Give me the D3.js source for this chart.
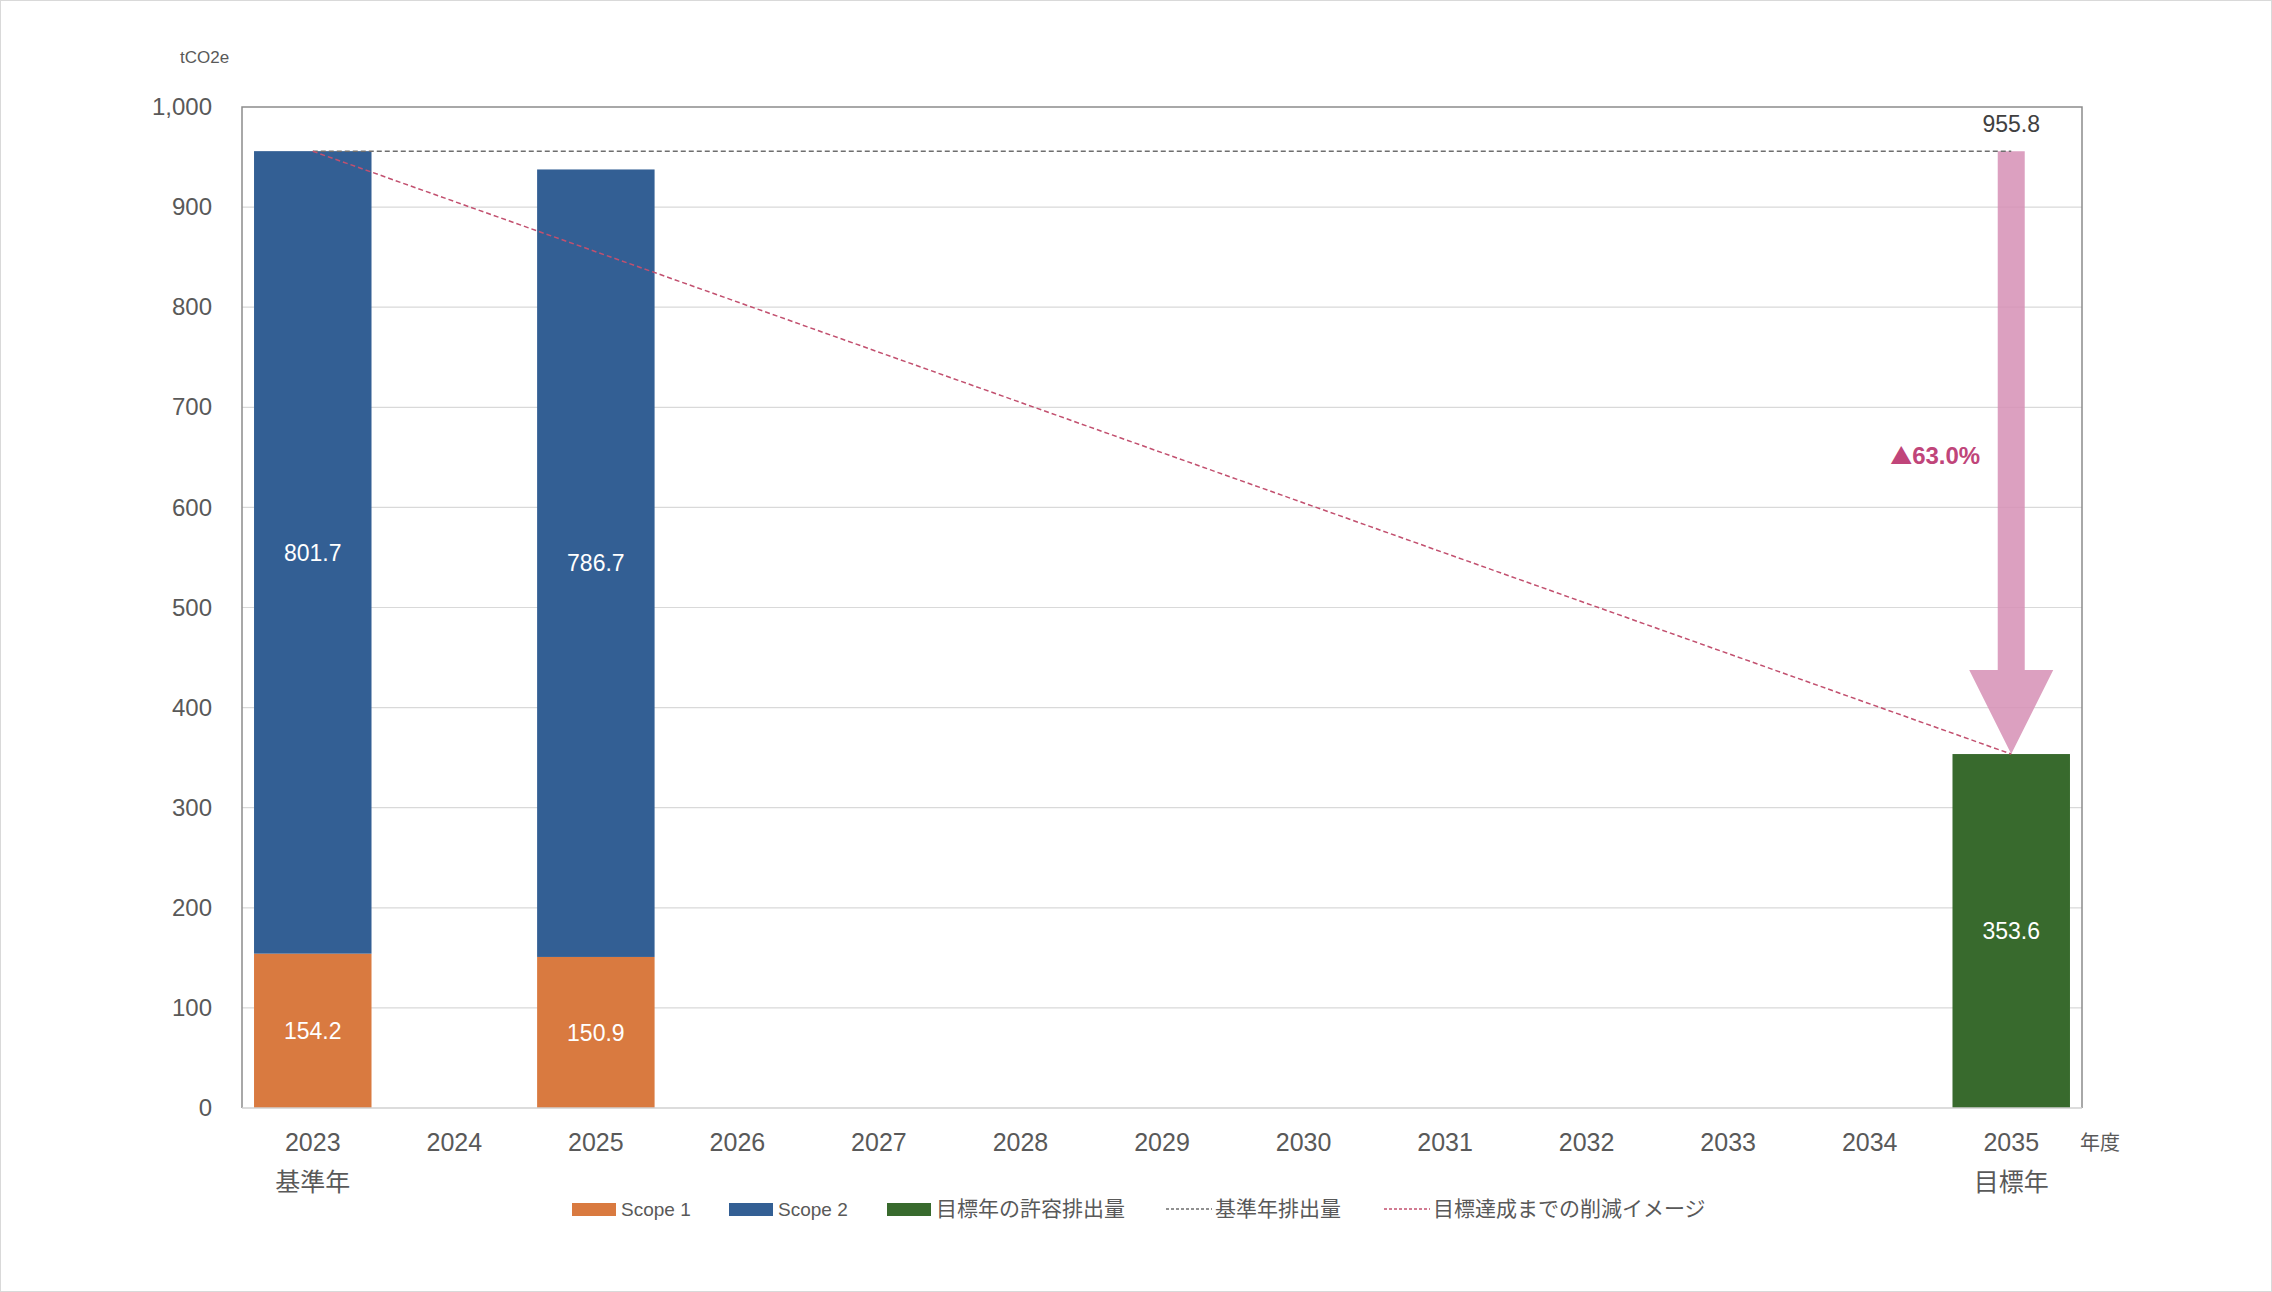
<!DOCTYPE html>
<html>
<head>
<meta charset="utf-8">
<script src="https://cdn.jsdelivr.net/npm/d3@7"></script>
<style>
  body { margin: 0; background: #fff; }
  svg text { font-family: "Liberation Sans", "Noto Sans CJK JP", sans-serif; }
  .jp { font-family: "Noto Sans CJK JP", sans-serif; }
</style>
</head>
<body>
<div id="chart"></div>
<script>
// Data
var years = ["2023", "2024", "2025", "2026", "2027", "2028", "2029", "2030", "2031", "2032", "2033", "2034", "2035"];
var scope1 = [154.2, null, 150.9, null, null, null, null, null, null, null, null, null, null];
var scope2 = [801.7, null, 786.7, null, null, null, null, null, null, null, null, null, null];
var allowed = [null, null, null, null, null, null, null, null, null, null, null, null, 353.6];
var baseValue = 955.8;
var reductionLabel = "63.0%";
var yTicks = [0, 100, 200, 300, 400, 500, 600, 700, 800, 900, 1000];
var subLabels = { "2023": "基準年", "2035": "目標年" };

var svgWidth = 2272;
var svgHeight = 1292;

var margin = { top: 107, right: 190, bottom: 184, left: 242 };
var chartWidth = svgWidth - margin.left - margin.right;
var chartHeight = svgHeight - margin.top - margin.bottom;

var colors = { s1: "#D97A40", s2: "#335F94", green: "#386A2D", arrow: "#D68FB5", trend: "#C2506F", base: "#6E6E6E" };

var svg = d3.select("#chart")
  .append("svg")
  .attr("width", svgWidth)
  .attr("height", svgHeight);

// outer light frame
svg.append("rect")
  .attr("x", 0.5).attr("y", 0.5)
  .attr("width", svgWidth - 1).attr("height", svgHeight - 1)
  .attr("fill", "#fff").attr("stroke", "#d9d9d9");

var chartGroup = svg.append("g")
  .attr("transform", `translate(${margin.left}, ${margin.top})`);

var x = d3.scaleBand()
  .domain(years)
  .range([0, chartWidth])
  .paddingInner(0.17)
  .paddingOuter(0.085);

var y = d3.scaleLinear()
  .domain([0, 1000])
  .range([chartHeight, 0]);

// gridlines
chartGroup.append("g")
  .selectAll("line")
  .data(yTicks.filter(d => d > 0 && d < 1000))
  .enter().append("line")
  .attr("x1", 0).attr("x2", chartWidth)
  .attr("y1", d => y(d)).attr("y2", d => y(d))
  .attr("stroke", "#d9d9d9").attr("stroke-width", 1.2);

// y axis labels
var leftAxis = d3.axisLeft(y).tickValues(yTicks).tickFormat(d3.format(",")).tickSize(0).tickPadding(30);
chartGroup.append("g")
  .call(leftAxis)
  .call(g => g.select(".domain").remove())
  .selectAll("text")
  .attr("fill", "#595959")
  .style("font-size", "24px");

svg.append("text")
  .attr("x", 180).attr("y", 63)
  .attr("fill", "#595959")
  .style("font-size", "17px")
  .text("tCO2e");

// bars
var cx = d => x(d) + x.bandwidth() / 2;

years.forEach(function(yr, i) {
  if (scope1[i] != null) {
    chartGroup.append("rect")
      .attr("x", x(yr)).attr("width", x.bandwidth())
      .attr("y", y(scope1[i])).attr("height", y(0) - y(scope1[i]))
      .attr("fill", colors.s1);
    chartGroup.append("rect")
      .attr("x", x(yr)).attr("width", x.bandwidth())
      .attr("y", y(scope1[i] + scope2[i])).attr("height", y(scope1[i]) - y(scope1[i] + scope2[i]))
      .attr("fill", colors.s2);
    chartGroup.append("text")
      .attr("x", cx(yr)).attr("y", y(scope1[i] / 2)).attr("dy", "0.36em")
      .attr("text-anchor", "middle").attr("fill", "#fff").style("font-size", "23px")
      .text(scope1[i].toFixed(1));
    chartGroup.append("text")
      .attr("x", cx(yr)).attr("y", y(scope1[i] + scope2[i] / 2)).attr("dy", "0.36em")
      .attr("text-anchor", "middle").attr("fill", "#fff").style("font-size", "23px")
      .text(scope2[i].toFixed(1));
  }
  if (allowed[i] != null) {
    chartGroup.append("rect")
      .attr("x", x(yr)).attr("width", x.bandwidth())
      .attr("y", y(allowed[i])).attr("height", y(0) - y(allowed[i]))
      .attr("fill", colors.green);
    chartGroup.append("text")
      .attr("x", cx(yr)).attr("y", y(allowed[i] / 2)).attr("dy", "0.36em")
      .attr("text-anchor", "middle").attr("fill", "#fff").style("font-size", "23px")
      .text(allowed[i].toFixed(1));
  }
});

// frame (left, top, right) and bottom axis line
chartGroup.append("path")
  .attr("d", `M0,${chartHeight}V0H${chartWidth}V${chartHeight}`)
  .attr("fill", "none").attr("stroke", "#8c8c8c").attr("stroke-width", 1.5);
chartGroup.append("line")
  .attr("x1", 0).attr("x2", chartWidth)
  .attr("y1", chartHeight).attr("y2", chartHeight)
  .attr("stroke", "#d0d0d0").attr("stroke-width", 1.5);

var first = years[0], last = years[years.length - 1];
var target = allowed[allowed.length - 1];

// reduction arrow
var shaftW = 27, headW = 84, headH = y(target) - y(437.5);
var ax = cx(last);
chartGroup.append("path")
  .attr("d", [
    "M", ax - shaftW / 2, y(baseValue),
    "H", ax + shaftW / 2,
    "V", y(target) - headH,
    "H", ax + headW / 2,
    "L", ax, y(target),
    "L", ax - headW / 2, y(target) - headH,
    "H", ax - shaftW / 2, "Z"].join(" "))
  .attr("fill", colors.arrow).attr("opacity", 0.85);

// base-year line
chartGroup.append("line")
  .attr("x1", cx(first)).attr("x2", cx(last))
  .attr("y1", y(baseValue)).attr("y2", y(baseValue))
  .attr("stroke", colors.base).attr("stroke-width", 1.3)
  .attr("stroke-dasharray", "5 3");

// reduction path line
chartGroup.append("line")
  .attr("x1", cx(first)).attr("x2", cx(last))
  .attr("y1", y(baseValue)).attr("y2", y(target))
  .attr("stroke", colors.trend).attr("stroke-width", 1.5)
  .attr("stroke-dasharray", "5 3");

chartGroup.append("text")
  .attr("x", cx(last)).attr("y", y(baseValue) - 19)
  .attr("text-anchor", "middle").attr("fill", "#404040").style("font-size", "23px")
  .text(baseValue.toFixed(1));

var redText = chartGroup.append("text")
  .attr("x", cx(last) - 31).attr("y", y(652)).attr("dy", "0.36em")
  .attr("text-anchor", "end").attr("fill", "#C0457A")
  .style("font-size", "24px").style("font-weight", "bold");
redText.append("tspan").attr("class", "jp").style("font-size", "22px").text("▲");
redText.append("tspan").text(reductionLabel);

// x axis labels
var bottomAxis = d3.axisBottom(x).tickSize(0).tickPadding(25);
var xg = chartGroup.append("g")
  .attr("transform", `translate(0, ${chartHeight})`)
  .call(bottomAxis);
xg.select(".domain").remove();
xg.selectAll("text").attr("fill", "#595959").style("font-size", "25px");

Object.keys(subLabels).forEach(function(k) {
  chartGroup.append("text")
    .attr("class", "jp")
    .attr("x", cx(k)).attr("y", chartHeight + 83)
    .attr("text-anchor", "middle").attr("fill", "#595959").style("font-size", "25px")
    .text(subLabels[k]);
});

chartGroup.append("text")
  .attr("class", "jp")
  .attr("x", chartWidth - 2).attr("y", chartHeight + 42)
  .attr("fill", "#595959").style("font-size", "20px")
  .text("年度");

// legend
var legendItems = [
  { label: "Scope 1", type: "rect", color: colors.s1, x: 572 },
  { label: "Scope 2", type: "rect", color: colors.s2, x: 729 },
  { label: "目標年の許容排出量", type: "rect", color: colors.green, x: 887 },
  { label: "基準年排出量", type: "line", color: colors.base, x: 1166 },
  { label: "目標達成までの削減イメージ", type: "line", color: colors.trend, x: 1384 }
];
var legend = svg.append("g").attr("transform", "translate(0, 1209)");
legendItems.forEach(function(d) {
  var isJp = /[^ -~]/.test(d.label);
  if (d.type === "rect") {
    legend.append("rect")
      .attr("x", d.x).attr("y", -6).attr("width", 44).attr("height", 13)
      .attr("fill", d.color);
  } else {
    legend.append("line")
      .attr("x1", d.x).attr("x2", d.x + 46).attr("y1", 0).attr("y2", 0)
      .attr("stroke", d.color).attr("stroke-width", 1.5).attr("stroke-dasharray", "3 2");
  }
  legend.append("text")
    .attr("class", isJp ? "jp" : null)
    .attr("x", d.x + 49).attr("y", 0).attr("dy", "0.35em")
    .attr("fill", "#595959").style("font-size", isJp ? "21px" : "19px")
    .text(d.label);
});
</script>
</body>
</html>
